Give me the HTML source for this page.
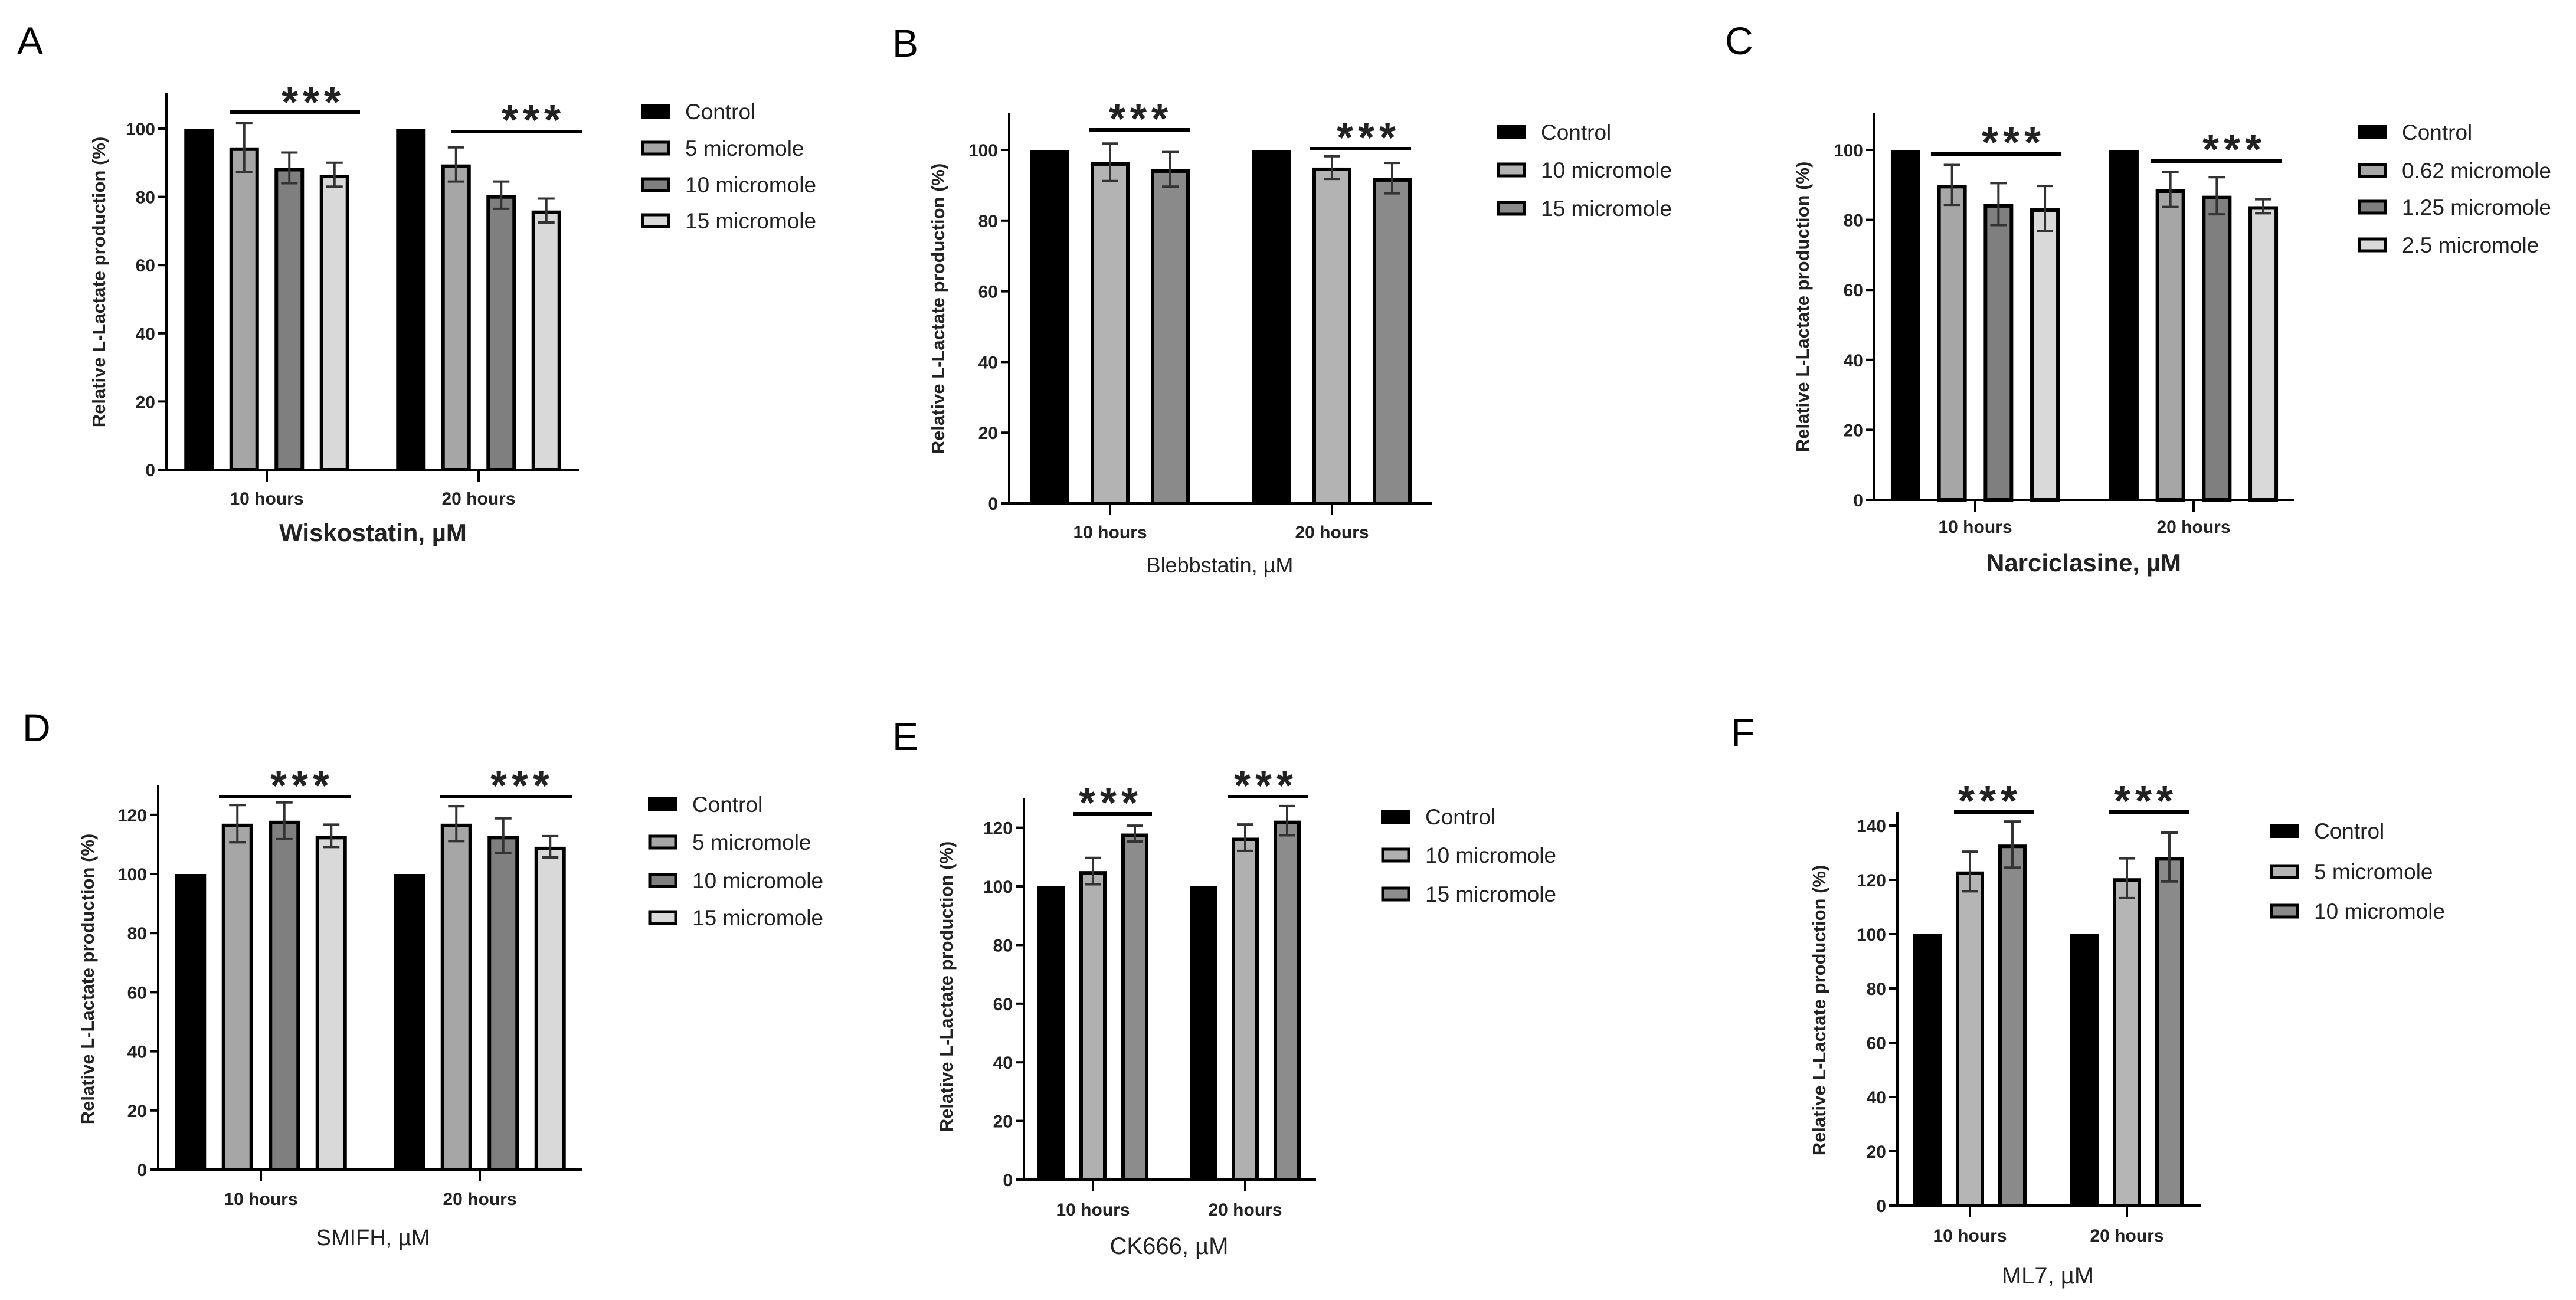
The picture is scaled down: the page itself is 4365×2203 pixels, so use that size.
<!DOCTYPE html>
<html><head><meta charset="utf-8"><style>
html,body{margin:0;padding:0;background:#fff;}
svg{display:block;font-family:"Liberation Sans",Arial,sans-serif;}
</style></head>
<body>
<svg id="fig" width="4365" height="2203" viewBox="0 0 4365 2203" xmlns="http://www.w3.org/2000/svg"></svg>
<script>
// ---------- DATA ----------
const categories = ["10 hours", "20 hours"];

const aSeries = ["Control", "5 micromole", "10 micromole", "15 micromole"];
const aMeans = [[100, 94.5, 88.5, 86.5], [100, 89.5, 80.5, 76]];
const aErr = [[0, 7.2, 4.5, 3.5], [0, 5, 4, 3.5]];

const bSeries = ["Control", "10 micromole", "15 micromole"];
const bMeans = [[100, 96.5, 94.5], [100, 95, 92]];
const bErr = [[0, 5.3, 4.9], [0, 3.2, 4.3]];

const cSeries = ["Control", "0.62 micromole", "1.25 micromole", "2.5 micromole"];
const cMeans = [[100, 90, 84.5, 83.3], [100, 88.7, 86.9, 83.9]];
const cErr = [[0, 5.7, 6, 6.4], [0, 5, 5.3, 2]];

const dSeries = ["Control", "5 micromole", "10 micromole", "15 micromole"];
const dMeans = [[100, 117, 118, 112.9], [100, 117, 112.9, 109.2]];
const dErr = [[0, 6.3, 6.2, 3.8], [0, 5.9, 5.9, 3.6]];

const eSeries = ["Control", "10 micromole", "15 micromole"];
const eMeans = [[100, 105.2, 118], [100, 116.6, 122.4]];
const eErr = [[0, 4.5, 2.7], [0, 4.5, 5]];

const fSeries = ["Control", "5 micromole", "10 micromole"];
const fMeans = [[100, 123.1, 133], [100, 120.6, 128.4]];
const fErr = [[0, 7.3, 8.5], [0, 7.3, 9]];

const ticks100 = [0, 20, 40, 60, 80, 100];
const ticks120 = [0, 20, 40, 60, 80, 100, 120];
const ticks140 = [0, 20, 40, 60, 80, 100, 120, 140];

// ---------- LAYOUT ----------
const NS = "http://www.w3.org/2000/svg";
const svg = document.getElementById("fig");
function mk(tag, attrs, parent) {
  const e = document.createElementNS(NS, tag);
  for (const k in attrs) e.setAttribute(k, attrs[k]);
  (parent || svg).appendChild(e);
  return e;
}

const panels = [
  {key:"a", letter:"A", lx:29, ly:92, series:aSeries, means:aMeans, err:aErr, ticks:ticks100, yMax:110.5,
   ax:282, y0:796, ppu:5.78, right:981, g0:452, gStep:359, slot:76.5, bw:50,
   colors:["#000","#a6a6a6","#7f7f7f","#d9d9d9"],
   legX:1086, legY:[189,251,313,374], title:"Wiskostatin, µM", titleX:632, titleY:917, titleSize:42, titleBold:true,
   ytX:167, ytY:478, catY:855,
   sig:[{x1:390,x2:610,y:190,sx:531,sy:160},{x1:764,x2:986,y:223,sx:904,sy:190}]},
  {key:"b", letter:"B", lx:1512, ly:96, series:bSeries, means:bMeans, err:bErr, ticks:ticks100, yMax:110.5,
   ax:1710, y0:853, ppu:5.99, right:2426, g0:1881, gStep:376, slot:102, bw:66,
   colors:["#000","#b3b3b3","#8a8a8a"],
   legX:2536, legY:[224,288,353], title:"Blebbstatin, µM", titleX:2067, titleY:970, titleSize:36, titleBold:false,
   ytX:1589, ytY:523, catY:912,
   sig:[{x1:1845,x2:2016,y:220,sx:1933,sy:188},{x1:2220,x2:2391,y:252,sx:2319,sy:220}]},
  {key:"c", letter:"C", lx:2923, ly:92, series:cSeries, means:cMeans, err:cErr, ticks:ticks100, yMax:110.5,
   ax:3176, y0:847, ppu:5.93, right:3888, g0:3347, gStep:370, slot:78.7, bw:50,
   colors:["#000","#a6a6a6","#7f7f7f","#d9d9d9"],
   legX:3995, legY:[224,289,351,415], title:"Narciclasine, µM", titleX:3531, titleY:968, titleSize:42, titleBold:true,
   ytX:3054, ytY:520, catY:903,
   sig:[{x1:3272,x2:3493,y:261,sx:3412,sy:228},{x1:3645,x2:3867,y:273,sx:3786,sy:240}]},
  {key:"d", letter:"D", lx:38, ly:1256, series:dSeries, means:dMeans, err:dErr, ticks:ticks120, yMax:130,
   ax:268, y0:1982, ppu:5.01, right:986, g0:442, gStep:371, slot:79.5, bw:53,
   colors:["#000","#a6a6a6","#7f7f7f","#d9d9d9"],
   legX:1098, legY:[1363,1427,1492,1555], title:"SMIFH, µM", titleX:632, titleY:2110, titleSize:38, titleBold:false,
   ytX:148, ytY:1659, catY:2042,
   sig:[{x1:371,x2:595,y:1350,sx:512,sy:1318},{x1:746,x2:969,y:1350,sx:885,sy:1318}]},
  {key:"e", letter:"E", lx:1512, ly:1271, series:eSeries, means:eMeans, err:eErr, ticks:ticks120, yMax:130,
   ax:1735, y0:1999, ppu:4.97, right:2230, g0:1852, gStep:258, slot:71, bw:46,
   colors:["#000","#b0b0b0","#8c8c8c"],
   legX:2340, legY:[1384,1449,1515], title:"CK666, µM", titleX:1981, titleY:2125, titleSize:40, titleBold:false,
   ytX:1603, ytY:1672, catY:2060,
   sig:[{x1:1818,x2:1952,y:1379,sx:1882,sy:1347},{x1:2080,x2:2216,y:1350,sx:2145,sy:1318}]},
  {key:"f", letter:"F", lx:2933, ly:1264, series:fSeries, means:fMeans, err:fErr, ticks:ticks140, yMax:145,
   ax:3215, y0:2043, ppu:4.6, right:3729, g0:3338, gStep:266, slot:72, bw:48,
   colors:["#000","#b5b5b5","#8a8a8a"],
   legX:3846, legY:[1408,1477,1544], title:"ML7, µM", titleX:3470, titleY:2175, titleSize:40, titleBold:false,
   ytX:3082, ytY:1712, catY:2104,
   sig:[{x1:3311,x2:3447,y:1376,sx:3372,sy:1344},{x1:3573,x2:3710,y:1376,sx:3636,sy:1344}]}
];

function drawPanel(p) {
  const g = mk("g", {});
  
  
  const yS = v => p.y0 - v * p.ppu;
  const n = p.series.length;

  const L = mk("text", {x:p.lx, y:p.ly, "font-size":66, fill:"#000"}, g);
  L.textContent = p.letter;
  
  

  p.means.forEach((grp, gi) => {
    const gx = p.g0 + gi * p.gStep;
    grp.forEach((v, si) => {
      const cx = gx + (si - (n - 1) / 2) * p.slot;
      const top = yS(v);
      const isCtrl = si === 0;
      const r = mk("rect", {
        x: cx - p.bw / 2 + (isCtrl ? 0 : 3), y: top + (isCtrl ? 0 : 3),
        width: p.bw - (isCtrl ? 0 : 6), height: (p.y0 - top) - (isCtrl ? 0 : 3),
        fill: p.colors[si], stroke: isCtrl ? "none" : "#000", "stroke-width": 6
      }, g);
      
      
      const e = p.err[gi][si];
      if (e > 0) {
        const eg = mk("g", {stroke:"#333", "stroke-width":4}, g);
        
        
        mk("line", {x1:cx, x2:cx, y1:yS(v + e), y2:yS(v - e)}, eg);
        mk("line", {x1:cx - 14, x2:cx + 14, y1:yS(v + e), y2:yS(v + e)}, eg);
        mk("line", {x1:cx - 14, x2:cx + 14, y1:yS(v - e), y2:yS(v - e)}, eg);
      }
    });
  });

  const ya = mk("line", {x1:p.ax, x2:p.ax, y1:yS(p.yMax), y2:p.y0 + 2, stroke:"#000", "stroke-width":4}, g);
  
  
  const xa = mk("line", {x1:p.ax - 2, x2:p.right, y1:p.y0, y2:p.y0, stroke:"#000", "stroke-width":4}, g);
  
  

  p.ticks.forEach(t => {
    mk("line", {x1:p.ax - 14, x2:p.ax, y1:yS(t), y2:yS(t), stroke:"#000", "stroke-width":4}, g);
    const tl = mk("text", {x:p.ax - 19, y:yS(t) + 11, "font-size":30, "font-weight":"bold", "text-anchor":"end", fill:"#222"}, g);
    tl.textContent = t;
    
    
  });
  categories.forEach((c, gi) => {
    const gx = p.g0 + gi * p.gStep;
    mk("line", {x1:gx, x2:gx, y1:p.y0, y2:p.y0 + 20, stroke:"#000", "stroke-width":4}, g);
    const ct = mk("text", {x:gx, y:p.catY, "font-size":30, "font-weight":"bold", "text-anchor":"middle", fill:"#222"}, g);
    ct.textContent = c;
    
    
  });

  const yt = mk("text", {x:0, y:0, "font-size":31, "font-weight":"bold", "text-anchor":"middle", fill:"#222",
    transform:"translate(" + (p.ytX + 11) + "," + p.ytY + ") rotate(-90)"}, g);
  yt.textContent = "Relative L-Lactate production (%)";
  
  
  const xt = mk("text", {x:p.titleX, y:p.titleY, "font-size":p.titleSize, "font-weight":p.titleBold ? "bold" : "normal", "text-anchor":"middle", fill:"#222"}, g);
  xt.textContent = p.title;
  
  

  p.sig.forEach(s => {
    const sl = mk("line", {x1:s.x1, x2:s.x2, y1:s.y, y2:s.y, stroke:"#000", "stroke-width":6}, g);
    
    
    const st = mk("text", {x:s.sx, y:s.sy + 38, "font-size":72, "font-weight":"bold", "text-anchor":"middle", fill:"#222", "letter-spacing":"8"}, g);
    st.textContent = "***";
    
    
  });

  p.series.forEach((s, si) => {
    const lg = mk("g", {}, g);
    
    
    const cy = p.legY[si];
    if (si === 0) mk("rect", {x:p.legX, y:cy - 12, width:50, height:24, fill:"#000"}, lg);
    else mk("rect", {x:p.legX + 3, y:cy - 10, width:44, height:20, fill:p.colors[si], stroke:"#000", "stroke-width":5}, lg);
    const lt = mk("text", {x:p.legX + 75, y:cy + 13, "font-size":37, fill:"#222"}, lg);
    lt.textContent = s;
  });
}
panels.forEach(drawPanel);
</script>
</body></html>
